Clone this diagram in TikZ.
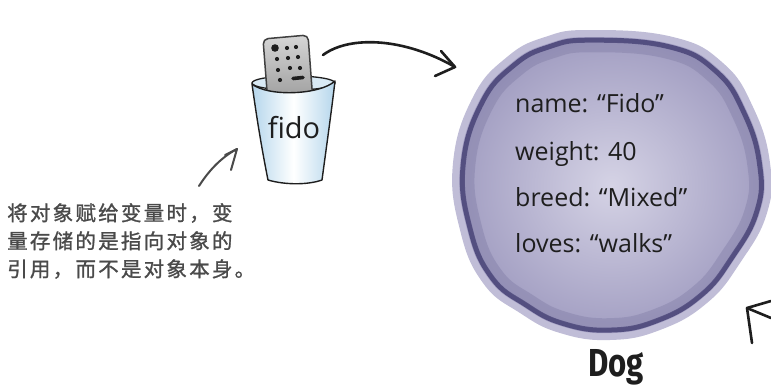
\documentclass[tikz,border=0pt]{standalone}
\usepackage{fontspec}
\setmainfont{Fira Sans}
\newfontfamily\cjk{Noto Sans CJK SC}[LetterSpace=11, FakeBold=1.2]
\newfontfamily\fieldfont{Open Sans}
\newfontfamily\titlefont{Fira Sans}[BoldFont=* Bold]
\usetikzlibrary{calc}

\definecolor{ink}{HTML}{1E1E1E}
\definecolor{noteink}{HTML}{4A4A4A}
\definecolor{halo}{HTML}{C0BDD7}
\definecolor{blobmid}{HTML}{A29EC2}
\definecolor{blobin}{HTML}{D5D3E5}
\definecolor{ring}{HTML}{403B70}
\definecolor{cupblue}{HTML}{B5D6EC}
\definecolor{cupback}{HTML}{D9EAF5}
\definecolor{remotelt}{HTML}{D6D6D6}
\definecolor{remotedk}{HTML}{9A9A9A}

% outline of the object blob, relative to its centre
\def\blobpath{plot[smooth cycle, tension=0.75] coordinates {
  (-20,-157) (63,-150) (113,-124) (143,-80) (160,-24) (157,26) (130,76)
  (97,116) (50,143) (0,153) (-50,146) (-90,126) (-127,96) (-150,43)
  (-157,-24) (-137,-90) (-103,-130) (-65,-150)}}

\tikzset{
  sketch/.style={draw=ink, line width=2.6pt, line cap=round, line join=round},
  note/.style={draw=noteink, line width=2pt, line cap=round, line join=round},
  field/.style={anchor=base west, font=\fieldfont\fontsize{25}{25}\selectfont, text=ink, inner sep=0pt},
  dot/.style={fill=ink, draw=none},
}

\begin{document}
\begin{tikzpicture}[x=1pt, y=-1pt]
\useasboundingbox (0,0) rectangle (771,388);

% ---------- the Dog object ----------
\coordinate (obj) at (610,187);
\begin{scope}[shift={(obj)}]
  \fill[halo] \blobpath;
  \begin{scope}[scale=0.955]
    \shade[inner color=blobin, outer color=blobmid] \blobpath;
  \end{scope}
  \begin{scope}[scale=0.935]
    \draw[ring, line width=5pt, opacity=0.8] \blobpath;
  \end{scope}
  \begin{scope}[scale=0.89]
    \draw[ring!55!blobmid, line width=10pt, opacity=0.28] \blobpath;
  \end{scope}
\end{scope}

\node[field] (fname)   at (515,112) {name: “Fido”};
\node[field] (fweight) at (515,160) {weight: 40};
\node[field] (fbreed)  at (515,206) {breed: “Mixed”};
\node[field] (floves)  at (515,252) {loves: “walks”};

\node[anchor=base, inner sep=0pt, text=ink, xscale=0.8,
      font=\titlefont\bfseries\fontsize{39}{39}\selectfont] (dog) at (616,376) {Dog};

% ---------- the cup holding the remote ----------
% inside of the cup behind the remote
\draw[draw=ink, line width=1.3pt, fill=cupback] (293.5,83) ellipse (41.5 and 7);

% remote
\coordinate (remote) at (287,68);
\draw[draw=ink!85, line width=1.5pt, rounded corners=5pt,
      top color=remotelt, bottom color=remotedk]
  (263,39) -- (308,35) -- (313,102) -- (268,104) -- cycle;
\fill[dot] (275,48) circle (3.8);
\fill[dot] (287,48) circle (2.1);
\fill[dot] (296,47) circle (2.1);
\fill[dot] (277,59) circle (2.1);
\fill[dot] (288,58) circle (2.1);
\fill[dot] (298,57) circle (2.1);
\fill[dot] (278,70) circle (2.1);
\fill[dot] (290,68) circle (2.1);
\fill[dot] (300,68) circle (2.1);
\fill[dot] (280,80) circle (2.1);
\draw[ink, line width=3.6pt, line cap=round] (293,78.5) -- (303,77.5);

% front of the cup
\draw[draw=ink, line width=1.4pt, line join=round,
      left color=cupblue, right color=cupblue, middle color=white]
  (252,84) .. controls (257,120) and (262,150) .. (268,180)
  .. controls (285,185) and (308,185) .. (322,180)
  .. controls (326,150) and (331,115) .. (335,81)
  .. controls (320,95) and (268,97) .. (252,84) -- cycle;
\node[inner sep=0pt, text=ink, font=\fieldfont\fontsize{29}{29}\selectfont] (fido) at (294,128) {fido};

% ---------- arrow from the variable to the object ----------
\coordinate (refstart) at (323,55);
\coordinate (reftip) at (455,67);
\draw[sketch] (refstart) .. controls (350,35) and (405,38) .. (reftip);
\draw[sketch] (441,51) -- (reftip) -- (435,76);

% ---------- note with its arrow ----------
\node[anchor=north west, inner sep=0pt, align=left, text=noteink,
      font=\cjk\fontsize{20.5}{28}\selectfont] (note) at (7,203)
  {将对象赋给变量时，变\\量存储的是指向对象的\\引用，而不是对象本身。};
\coordinate (notestart) at (199,186);
\coordinate (notetip) at (237,149);
\draw[note] (notestart) .. controls (208,172) and (220,158) .. (notetip);
\draw[note] (225,155) -- (notetip) -- (231,170);

% ---------- arrow coming in from the right ----------
\coordinate (intip) at (747,308);
\draw[sketch] (771,318) -- (intip);
\draw[sketch] (771,301) -- (intip) -- (752,343);
\end{tikzpicture}
\end{document}
